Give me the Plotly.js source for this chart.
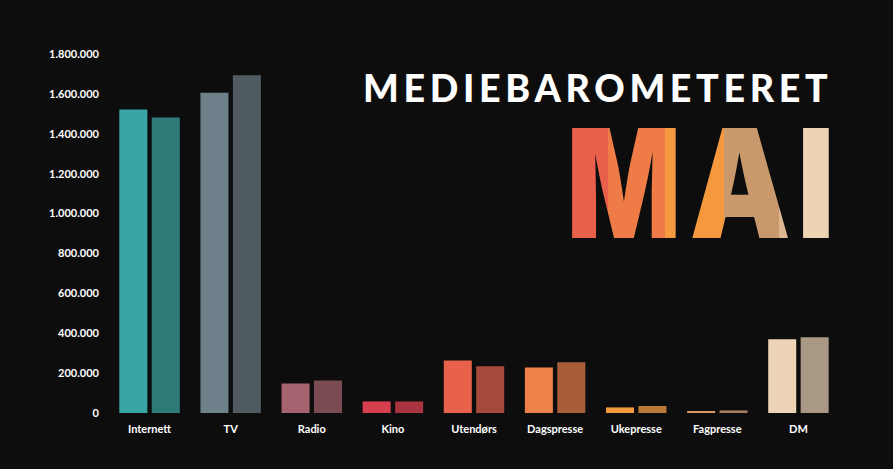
<!DOCTYPE html>
<html>
<head>
<meta charset="utf-8">
<script src="https://cdn.plot.ly/plotly-3.0.1.min.js"></script>
<style>
  html, body { margin: 0; padding: 0; background: #0d0d0d; }
  #chart { width: 893px; height: 469px; }
</style>
</head>
<body>
<div id="chart"></div>
<script>
// ---- data ----
const categories = ["Internett", "TV", "Radio", "Kino", "Utendørs", "Dagspresse", "Ukepresse", "Fagpresse", "DM"];
const series1 = [1522000, 1606000, 148000, 58000, 263000, 228000, 28000, 10000, 370000];
const series2 = [1481000, 1693000, 163000, 58000, 235000, 254000, 35000, 13000, 380000];
const yTicks = [0, 200000, 400000, 600000, 800000, 1000000, 1200000, 1400000, 1600000, 1800000];
const titleText = "MEDIEBAROMETERET";
const monthLetters = ["M", "A", "I"];

// ---- styles ----
const colors1 = ["#3aa5a6", "#6e8089", "#a5626f", "#d63f4e", "#e8624b", "#ee8147", "#f39a40", "#d99a68", "#edd4b6"];
const colors2 = ["#2e7b79", "#4f5b61", "#7a4b53", "#a8343f", "#a84a3b", "#a85e38", "#b97a3a", "#a87e5e", "#a99883"];

const font = "Lato, 'DejaVu Sans', sans-serif";
const titleWeight = 900;
const bigFamily = "Inter, 'DejaVu Sans', sans-serif";
const bigWeight = 900;

const traces = [
  { type: "bar", name: "Serie 1", x: categories, y: series1,
    marker: { color: colors1, line: { width: 0 } } },
  { type: "bar", name: "Serie 2", x: categories, y: series2,
    marker: { color: colors2, line: { width: 0 } } }
];

function ann(text, family, size, weight, color) {
  return { xref: "paper", yref: "paper", x: 0.5, y: 0.5, text: text, showarrow: false,
           font: { family: family, size: size, color: color, weight: weight } };
}

const layout = {
  width: 893, height: 469,
  paper_bgcolor: "rgba(0,0,0,0)",
  plot_bgcolor: "rgba(0,0,0,0)",
  margin: { l: 109, r: 53.5, t: 54.3, b: 55.7 },
  separators: ",.",
  showlegend: false,
  barmode: "group",
  bargap: 0.2,
  bargroupgap: 0.136,
  font: { family: font, color: "#ffffff", size: 11 },
  xaxis: {
    showgrid: false, zeroline: false, showline: false, ticks: "",
    tickfont: { family: font, size: 11, color: "#ffffff", weight: 700 },
    ticklabelstandoff: 8
  },
  yaxis: {
    range: [0, 1800000],
    tickvals: yTicks,
    tickformat: ",d",
    showgrid: false, zeroline: false, showline: false, ticks: "",
    tickfont: { family: font, size: 11, color: "#ffffff", weight: 700 },
    ticklabelstandoff: 9
  },
  annotations: [
    ann(titleText, font, 38, titleWeight, "#ffffff"),
    ann(monthLetters[0], bigFamily, 150, bigWeight, "#ef7b47"),
    ann(monthLetters[1], bigFamily, 150, bigWeight, "#c9996b"),
    ann(monthLetters[2], bigFamily, 150, bigWeight, "#eed3b5")
  ]
};

// ---- decoration placement (ink-fitted) ----
const cv = document.createElement("canvas").getContext("2d");
function inkOf(str, weight, size, family) {
  cv.font = weight + " " + size + "px " + family;
  const m = cv.measureText(str);
  return { l: m.actualBoundingBoxLeft, r: m.actualBoundingBoxRight,
           a: m.actualBoundingBoxAscent, d: m.actualBoundingBoxDescent };
}
function placeInk(el, str, weight, size, family, box, keepRatio) {
  const ink = inkOf(str, weight, size, family);
  const n = str.length;
  let sx, sy, ls = 0;
  const inkW = ink.l + ink.r;
  const inkH = ink.a;
  sy = (box.y1 - box.y0) / inkH;
  if (keepRatio) {
    sx = sy;
    ls = ((box.x1 - box.x0) / sx - inkW) / (n - 1);
    el.setAttribute("letter-spacing", ls + "px");
  } else {
    sx = (box.x1 - box.x0) / inkW;
  }
  const ox = box.x0 + ink.l * sx;
  const oy = box.y0 + ink.a * sy;
  const ctm = el.parentNode.getScreenCTM();
  el.setAttribute("text-anchor", "start");
  el.setAttribute("x", 0);
  el.setAttribute("y", 0);
  el.querySelectorAll("tspan").forEach(function (t) { t.removeAttribute("x"); t.removeAttribute("y"); });
  el.setAttribute("transform", "translate(" + (ox - ctm.e) + "," + (oy - ctm.f) + ") scale(" + sx + "," + sy + ")");
  return ink;
}

Plotly.newPlot("chart", traces, layout, { displayModeBar: false, staticPlot: true }).then(function (gd) {
  const svgNS = "http://www.w3.org/2000/svg";
  const anns = gd.querySelectorAll(".annotation-text");
  const svg = gd.querySelector("svg.main-svg");
  let defs = svg.querySelector("defs");
  if (!defs) { defs = document.createElementNS(svgNS, "defs"); svg.insertBefore(defs, svg.firstChild); }
  function grad(id, x1, x2, stops) {
    const g = document.createElementNS(svgNS, "linearGradient");
    g.setAttribute("id", id);
    g.setAttribute("gradientUnits", "userSpaceOnUse");
    g.setAttribute("x1", x1); g.setAttribute("x2", x2); g.setAttribute("y1", 0); g.setAttribute("y2", 0);
    stops.forEach(function (s) {
      const st = document.createElementNS(svgNS, "stop");
      st.setAttribute("offset", s[0]);
      st.setAttribute("stop-color", s[1]);
      g.appendChild(st);
    });
    defs.appendChild(g);
  }

  placeInk(anns[0], titleText, titleWeight, 38, font, { x0: 365, x1: 828, y0: 74, y1: 101.7 }, true);
  const inkM = placeInk(anns[1], "M", bigWeight, 150, bigFamily, { x0: 572, x1: 676, y0: 128, y1: 238 }, false);
  const inkA = placeInk(anns[2], "A", bigWeight, 150, bigFamily, { x0: 692, x1: 788, y0: 128, y1: 238 }, false);
  placeInk(anns[3], "I", bigWeight, 150, bigFamily, { x0: 803, x1: 829, y0: 128, y1: 238 }, false);

  grad("gradM", -inkM.l, inkM.r, [[0, "#e8604a"], [0.35, "#e8604a"], [0.35, "#ef7c47"], [0.89, "#ef7c47"], [0.89, "#f69a40"], [1, "#f69a40"]]);
  grad("gradA", -inkA.l, inkA.r, [[0, "#f6993e"], [0.33, "#f6993e"], [0.33, "#c9996b"], [0.91, "#c9996b"], [0.91, "#dcb890"], [1, "#dcb890"]]);
  anns[1].style.fill = "url(#gradM)";
  anns[2].style.fill = "url(#gradA)";
});
</script>
</body>
</html>
